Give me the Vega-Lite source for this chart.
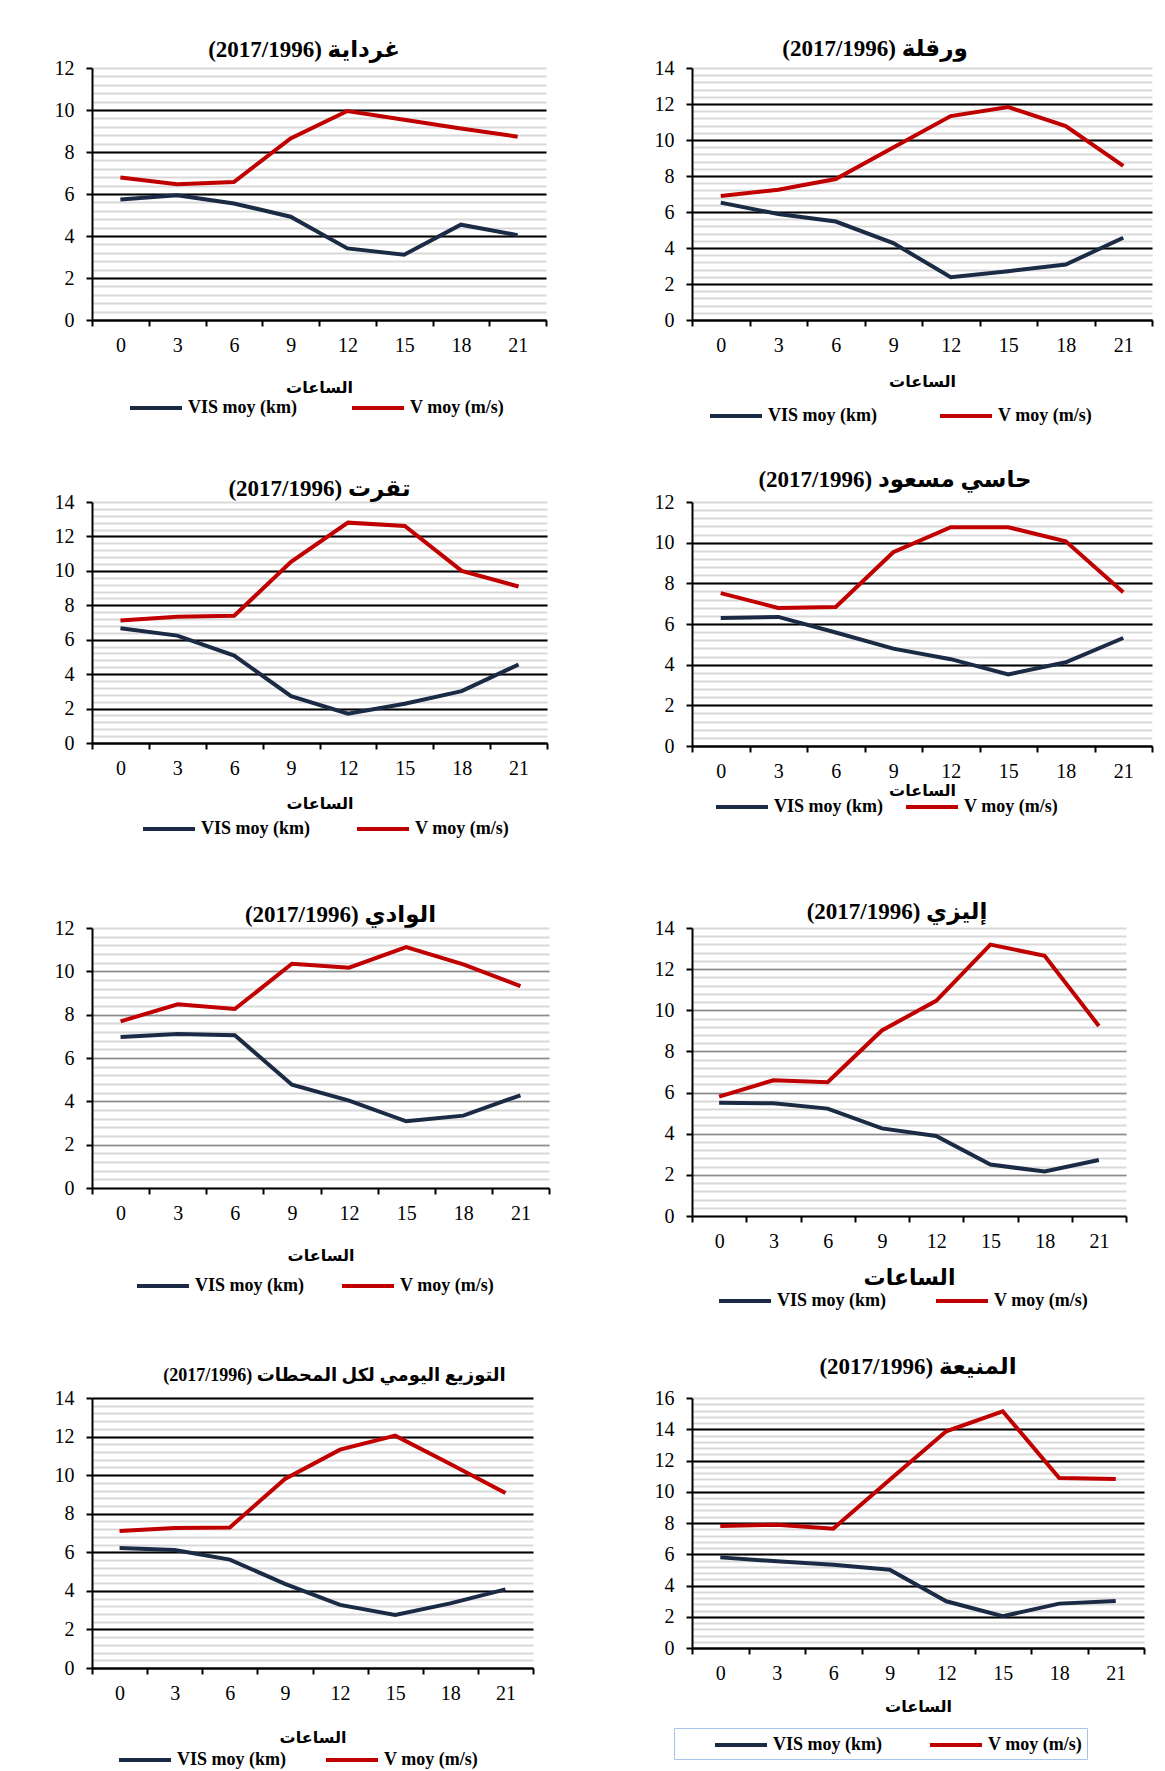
{
  "$schema": "https://vega.github.io/schema/vega-lite/v6.json",
  "padding": {"left": 54, "top": 38, "right": 5, "bottom": 5},
  "background": "white",
  "data": {"values": [
    {"st":"ghardaia","h":0,"s":"VIS moy (km)","v":5.74},{"st":"ghardaia","h":3,"s":"VIS moy (km)","v":5.94},{"st":"ghardaia","h":6,"s":"VIS moy (km)","v":5.55},{"st":"ghardaia","h":9,"s":"VIS moy (km)","v":4.92},{"st":"ghardaia","h":12,"s":"VIS moy (km)","v":3.41},{"st":"ghardaia","h":15,"s":"VIS moy (km)","v":3.11},{"st":"ghardaia","h":18,"s":"VIS moy (km)","v":4.54},{"st":"ghardaia","h":21,"s":"VIS moy (km)","v":4.04},
    {"st":"ghardaia","h":0,"s":"V moy (m/s)","v":6.79},{"st":"ghardaia","h":3,"s":"V moy (m/s)","v":6.46},{"st":"ghardaia","h":6,"s":"V moy (m/s)","v":6.57},{"st":"ghardaia","h":9,"s":"V moy (m/s)","v":8.65},{"st":"ghardaia","h":12,"s":"V moy (m/s)","v":9.95},{"st":"ghardaia","h":15,"s":"V moy (m/s)","v":9.54},{"st":"ghardaia","h":18,"s":"V moy (m/s)","v":9.12},{"st":"ghardaia","h":21,"s":"V moy (m/s)","v":8.73},
    {"st":"ouargla","h":0,"s":"VIS moy (km)","v":6.52},{"st":"ouargla","h":3,"s":"VIS moy (km)","v":5.89},{"st":"ouargla","h":6,"s":"VIS moy (km)","v":5.47},{"st":"ouargla","h":9,"s":"VIS moy (km)","v":4.27},{"st":"ouargla","h":12,"s":"VIS moy (km)","v":2.38},{"st":"ouargla","h":15,"s":"VIS moy (km)","v":2.71},{"st":"ouargla","h":18,"s":"VIS moy (km)","v":3.08},{"st":"ouargla","h":21,"s":"VIS moy (km)","v":4.57},
    {"st":"ouargla","h":0,"s":"V moy (m/s)","v":6.89},{"st":"ouargla","h":3,"s":"V moy (m/s)","v":7.24},{"st":"ouargla","h":6,"s":"V moy (m/s)","v":7.83},{"st":"ouargla","h":9,"s":"V moy (m/s)","v":9.58},{"st":"ouargla","h":12,"s":"V moy (m/s)","v":11.33},{"st":"ouargla","h":15,"s":"V moy (m/s)","v":11.83},{"st":"ouargla","h":18,"s":"V moy (m/s)","v":10.77},{"st":"ouargla","h":21,"s":"V moy (m/s)","v":8.56},
    {"st":"touggourt","h":0,"s":"VIS moy (km)","v":6.66},{"st":"touggourt","h":3,"s":"VIS moy (km)","v":6.24},{"st":"touggourt","h":6,"s":"VIS moy (km)","v":5.08},{"st":"touggourt","h":9,"s":"VIS moy (km)","v":2.72},{"st":"touggourt","h":12,"s":"VIS moy (km)","v":1.7},{"st":"touggourt","h":15,"s":"VIS moy (km)","v":2.28},{"st":"touggourt","h":18,"s":"VIS moy (km)","v":3.01},{"st":"touggourt","h":21,"s":"VIS moy (km)","v":4.56},
    {"st":"touggourt","h":0,"s":"V moy (m/s)","v":7.12},{"st":"touggourt","h":3,"s":"V moy (m/s)","v":7.34},{"st":"touggourt","h":6,"s":"V moy (m/s)","v":7.39},{"st":"touggourt","h":9,"s":"V moy (m/s)","v":10.52},{"st":"touggourt","h":12,"s":"V moy (m/s)","v":12.8},{"st":"touggourt","h":15,"s":"V moy (m/s)","v":12.61},{"st":"touggourt","h":18,"s":"V moy (m/s)","v":10.0},{"st":"touggourt","h":21,"s":"V moy (m/s)","v":9.09},
    {"st":"hassi","h":0,"s":"VIS moy (km)","v":6.3},{"st":"hassi","h":3,"s":"VIS moy (km)","v":6.35},{"st":"hassi","h":6,"s":"VIS moy (km)","v":5.58},{"st":"hassi","h":9,"s":"VIS moy (km)","v":4.79},{"st":"hassi","h":12,"s":"VIS moy (km)","v":4.27},{"st":"hassi","h":15,"s":"VIS moy (km)","v":3.52},{"st":"hassi","h":18,"s":"VIS moy (km)","v":4.12},{"st":"hassi","h":21,"s":"VIS moy (km)","v":5.31},
    {"st":"hassi","h":0,"s":"V moy (m/s)","v":7.52},{"st":"hassi","h":3,"s":"V moy (m/s)","v":6.79},{"st":"hassi","h":6,"s":"V moy (m/s)","v":6.84},{"st":"hassi","h":9,"s":"V moy (m/s)","v":9.53},{"st":"hassi","h":12,"s":"V moy (m/s)","v":10.76},{"st":"hassi","h":15,"s":"V moy (m/s)","v":10.76},{"st":"hassi","h":18,"s":"V moy (m/s)","v":10.07},{"st":"hassi","h":21,"s":"V moy (m/s)","v":7.56},
    {"st":"eloued","h":0,"s":"VIS moy (km)","v":6.97},{"st":"eloued","h":3,"s":"VIS moy (km)","v":7.11},{"st":"eloued","h":6,"s":"VIS moy (km)","v":7.05},{"st":"eloued","h":9,"s":"VIS moy (km)","v":4.77},{"st":"eloued","h":12,"s":"VIS moy (km)","v":4.03},{"st":"eloued","h":15,"s":"VIS moy (km)","v":3.08},{"st":"eloued","h":18,"s":"VIS moy (km)","v":3.34},{"st":"eloued","h":21,"s":"VIS moy (km)","v":4.28},
    {"st":"eloued","h":0,"s":"V moy (m/s)","v":7.69},{"st":"eloued","h":3,"s":"V moy (m/s)","v":8.48},{"st":"eloued","h":6,"s":"V moy (m/s)","v":8.26},{"st":"eloued","h":9,"s":"V moy (m/s)","v":10.35},{"st":"eloued","h":12,"s":"V moy (m/s)","v":10.17},{"st":"eloued","h":15,"s":"V moy (m/s)","v":11.12},{"st":"eloued","h":18,"s":"V moy (m/s)","v":10.32},{"st":"eloued","h":21,"s":"V moy (m/s)","v":9.32},
    {"st":"illizi","h":0,"s":"VIS moy (km)","v":5.5},{"st":"illizi","h":3,"s":"VIS moy (km)","v":5.48},{"st":"illizi","h":6,"s":"VIS moy (km)","v":5.22},{"st":"illizi","h":9,"s":"VIS moy (km)","v":4.26},{"st":"illizi","h":12,"s":"VIS moy (km)","v":3.89},{"st":"illizi","h":15,"s":"VIS moy (km)","v":2.5},{"st":"illizi","h":18,"s":"VIS moy (km)","v":2.16},{"st":"illizi","h":21,"s":"VIS moy (km)","v":2.72},
    {"st":"illizi","h":0,"s":"V moy (m/s)","v":5.8},{"st":"illizi","h":3,"s":"V moy (m/s)","v":6.6},{"st":"illizi","h":6,"s":"V moy (m/s)","v":6.5},{"st":"illizi","h":9,"s":"V moy (m/s)","v":9.02},{"st":"illizi","h":12,"s":"V moy (m/s)","v":10.46},{"st":"illizi","h":15,"s":"V moy (m/s)","v":13.19},{"st":"illizi","h":18,"s":"V moy (m/s)","v":12.65},{"st":"illizi","h":21,"s":"V moy (m/s)","v":9.24},
    {"st":"all","h":0,"s":"VIS moy (km)","v":6.22},{"st":"all","h":3,"s":"VIS moy (km)","v":6.12},{"st":"all","h":6,"s":"VIS moy (km)","v":5.62},{"st":"all","h":9,"s":"VIS moy (km)","v":4.36},{"st":"all","h":12,"s":"VIS moy (km)","v":3.27},{"st":"all","h":15,"s":"VIS moy (km)","v":2.75},{"st":"all","h":18,"s":"VIS moy (km)","v":3.35},{"st":"all","h":21,"s":"VIS moy (km)","v":4.08},
    {"st":"all","h":0,"s":"V moy (m/s)","v":7.1},{"st":"all","h":3,"s":"V moy (m/s)","v":7.26},{"st":"all","h":6,"s":"V moy (m/s)","v":7.29},{"st":"all","h":9,"s":"V moy (m/s)","v":9.8},{"st":"all","h":12,"s":"V moy (m/s)","v":11.32},{"st":"all","h":15,"s":"V moy (m/s)","v":12.05},{"st":"all","h":18,"s":"V moy (m/s)","v":10.58},{"st":"all","h":21,"s":"V moy (m/s)","v":9.07},
    {"st":"menia","h":0,"s":"VIS moy (km)","v":5.8},{"st":"menia","h":3,"s":"VIS moy (km)","v":5.55},{"st":"menia","h":6,"s":"VIS moy (km)","v":5.33},{"st":"menia","h":9,"s":"VIS moy (km)","v":5.01},{"st":"menia","h":12,"s":"VIS moy (km)","v":2.99},{"st":"menia","h":15,"s":"VIS moy (km)","v":2.03},{"st":"menia","h":18,"s":"VIS moy (km)","v":2.84},{"st":"menia","h":21,"s":"VIS moy (km)","v":3.01},
    {"st":"menia","h":0,"s":"V moy (m/s)","v":7.81},{"st":"menia","h":3,"s":"V moy (m/s)","v":7.89},{"st":"menia","h":6,"s":"V moy (m/s)","v":7.64},{"st":"menia","h":9,"s":"V moy (m/s)","v":10.77},{"st":"menia","h":12,"s":"V moy (m/s)","v":13.87},{"st":"menia","h":15,"s":"V moy (m/s)","v":15.15},{"st":"menia","h":18,"s":"V moy (m/s)","v":10.88},{"st":"menia","h":21,"s":"V moy (m/s)","v":10.82}
  ]},
  "columns": 2,
  "bounds": "flush",
  "spacing": {"row": 182, "column": 143},
  "resolve": {"scale": {"x": "independent", "y": "independent", "color": "independent"}, "legend": {"color": "independent"}},
  "concat": [
    {
      "width": 454, "height": 252,
      "title": {"text": "(2017/1996) غرداية", "fontSize": 23, "dx": -15, "offset": -4},
      "layer": [
        {"transform": [{"filter": "datum.st == 'ghardaia' && datum.s == 'VIS moy (km)'"}],
         "mark": {"type": "line", "strokeWidth": 4},
         "encoding": {
           "x": {"field": "h", "type": "quantitative", "scale": {"domain": [-1.5, 22.5], "nice": false, "zero": false}, "axis": {"orient": "bottom", "values": [-1.5,1.5,4.5,7.5,10.5,13.5,16.5,19.5,22.5], "labels": false, "ticks": true, "tickSize": 6, "tickWidth": 2, "tickColor": "black", "domain": true, "domainColor": "black", "domainWidth": 2, "grid": false, "title": null}},
           "y": {"field": "v", "type": "quantitative", "scale": {"domain": [0, 12], "nice": false}, "axis": {"orient": "left", "values": [0.4,0.8,1.2,1.6,2,2.4,2.8,3.2,3.6,4,4.4,4.8,5.2,5.6,6,6.4,6.8,7.2,7.6,8,8.4,8.8,9.2,9.6,10,10.4,10.8,11.2,11.6,12], "labels": false, "ticks": false, "domain": false, "grid": true, "gridColor": "#d9d9d9", "gridWidth": 2, "title": null}},
           "color": {"field": "s", "type": "nominal", "scale": {"domain": ["VIS moy (km)", "V moy (m/s)"], "range": ["#1c2b45", "#c00000"]}, "legend": {"title": null, "orient": "none", "direction": "horizontal", "legendX": 38, "legendY": 328, "columnPadding": 46}}
         }},
        {"transform": [{"filter": "datum.st == 'ghardaia' && datum.s == 'V moy (m/s)'"}],
         "mark": {"type": "line", "strokeWidth": 4},
         "encoding": {
           "x": {"field": "h", "type": "quantitative", "axis": {"orient": "bottom", "values": [0,3,6,9,12,15,18,21], "ticks": false, "tickSize": 0, "domain": false, "grid": false, "labelPadding": 15, "title": "الساعات", "titlePadding": 24}},
           "y": {"field": "v", "type": "quantitative", "axis": {"orient": "left", "values": [0,2,4,6,8,10,12], "grid": true, "gridColor": "black", "gridWidth": 1.8, "gridOpacity": {"condition": {"test": "datum.value == 12", "value": 0}, "value": 1}, "domain": true, "domainColor": "black", "domainWidth": 2, "ticks": true, "tickSize": 6, "tickWidth": 2, "tickColor": "black", "labelPadding": 12, "title": null}},
           "color": {"field": "s", "type": "nominal", "legend": {"title": null, "orient": "none", "direction": "horizontal", "legendX": 38, "legendY": 328, "columnPadding": 46}}
         }}
      ],
      "resolve": {"axis": {"x": "independent", "y": "independent"}}
    },
    {
      "width": 460, "height": 252,
      "title": {"text": "(2017/1996) ورقلة", "fontSize": 23, "dx": -47, "offset": -3},
      "layer": [
        {"transform": [{"filter": "datum.st == 'ouargla' && datum.s == 'VIS moy (km)'"}],
         "mark": {"type": "line", "strokeWidth": 4},
         "encoding": {
           "x": {"field": "h", "type": "quantitative", "scale": {"domain": [-1.5, 22.5], "nice": false, "zero": false}, "axis": {"orient": "bottom", "values": [-1.5,1.5,4.5,7.5,10.5,13.5,16.5,19.5,22.5], "labels": false, "ticks": true, "tickSize": 6, "tickWidth": 2, "tickColor": "black", "domain": true, "domainColor": "black", "domainWidth": 2, "grid": false, "title": null}},
           "y": {"field": "v", "type": "quantitative", "scale": {"domain": [0, 14], "nice": false}, "axis": {"orient": "left", "values": [0.4,0.8,1.2,1.6,2,2.4,2.8,3.2,3.6,4,4.4,4.8,5.2,5.6,6,6.4,6.8,7.2,7.6,8,8.4,8.8,9.2,9.6,10,10.4,10.8,11.2,11.6,12,12.4,12.8,13.2,13.6,14], "labels": false, "ticks": false, "domain": false, "grid": true, "gridColor": "#d9d9d9", "gridWidth": 2, "title": null}},
           "color": {"field": "s", "type": "nominal", "scale": {"domain": ["VIS moy (km)", "V moy (m/s)"], "range": ["#1c2b45", "#c00000"]}, "legend": {"title": null, "orient": "none", "direction": "horizontal", "legendX": 18, "legendY": 336, "columnPadding": 54}}
         }},
        {"transform": [{"filter": "datum.st == 'ouargla' && datum.s == 'V moy (m/s)'"}],
         "mark": {"type": "line", "strokeWidth": 4},
         "encoding": {
           "x": {"field": "h", "type": "quantitative", "axis": {"orient": "bottom", "values": [0,3,6,9,12,15,18,21], "ticks": false, "tickSize": 0, "domain": false, "grid": false, "labelPadding": 15, "title": "الساعات", "titlePadding": 18}},
           "y": {"field": "v", "type": "quantitative", "axis": {"orient": "left", "values": [0,2,4,6,8,10,12,14], "grid": true, "gridColor": "black", "gridWidth": 1.8, "gridOpacity": {"condition": {"test": "datum.value == 14", "value": 0}, "value": 1}, "domain": true, "domainColor": "black", "domainWidth": 2, "ticks": true, "tickSize": 6, "tickWidth": 2, "tickColor": "black", "labelPadding": 12, "title": null}},
           "color": {"field": "s", "type": "nominal", "legend": {"title": null, "orient": "none", "direction": "horizontal", "legendX": 18, "legendY": 336, "columnPadding": 54}}
         }}
      ],
      "resolve": {"axis": {"x": "independent", "y": "independent"}}
    },
    {
      "width": 455, "height": 241,
      "title": {"text": "(2017/1996) تقرت", "fontSize": 23, "dx": 0, "offset": -9},
      "layer": [
        {"transform": [{"filter": "datum.st == 'touggourt' && datum.s == 'VIS moy (km)'"}],
         "mark": {"type": "line", "strokeWidth": 4},
         "encoding": {
           "x": {"field": "h", "type": "quantitative", "scale": {"domain": [-1.5, 22.5], "nice": false, "zero": false}, "axis": {"orient": "bottom", "values": [-1.5,1.5,4.5,7.5,10.5,13.5,16.5,19.5,22.5], "labels": false, "ticks": true, "tickSize": 6, "tickWidth": 2, "tickColor": "black", "domain": true, "domainColor": "black", "domainWidth": 2, "grid": false, "title": null}},
           "y": {"field": "v", "type": "quantitative", "scale": {"domain": [0, 14], "nice": false}, "axis": {"orient": "left", "values": [0.4,0.8,1.2,1.6,2,2.4,2.8,3.2,3.6,4,4.4,4.8,5.2,5.6,6,6.4,6.8,7.2,7.6,8,8.4,8.8,9.2,9.6,10,10.4,10.8,11.2,11.6,12,12.4,12.8,13.2,13.6,14], "labels": false, "ticks": false, "domain": false, "grid": true, "gridColor": "#d9d9d9", "gridWidth": 2, "title": null}},
           "color": {"field": "s", "type": "nominal", "scale": {"domain": ["VIS moy (km)", "V moy (m/s)"], "range": ["#1c2b45", "#c00000"]}, "legend": {"title": null, "orient": "none", "direction": "horizontal", "legendX": 51, "legendY": 315, "columnPadding": 38}}
         }},
        {"transform": [{"filter": "datum.st == 'touggourt' && datum.s == 'V moy (m/s)'"}],
         "mark": {"type": "line", "strokeWidth": 4},
         "encoding": {
           "x": {"field": "h", "type": "quantitative", "axis": {"orient": "bottom", "values": [0,3,6,9,12,15,18,21], "ticks": false, "tickSize": 0, "domain": false, "grid": false, "labelPadding": 15, "title": "الساعات", "titlePadding": 17}},
           "y": {"field": "v", "type": "quantitative", "axis": {"orient": "left", "values": [0,2,4,6,8,10,12,14], "grid": true, "gridColor": "black", "gridWidth": 1.8, "gridOpacity": {"condition": {"test": "datum.value == 14", "value": 0}, "value": 1}, "domain": true, "domainColor": "black", "domainWidth": 2, "ticks": true, "tickSize": 6, "tickWidth": 2, "tickColor": "black", "labelPadding": 12, "title": null}},
           "color": {"field": "s", "type": "nominal", "legend": {"title": null, "orient": "none", "direction": "horizontal", "legendX": 51, "legendY": 315, "columnPadding": 38}}
         }}
      ],
      "resolve": {"axis": {"x": "independent", "y": "independent"}}
    },
    {
      "width": 460, "height": 244,
      "title": {"text": "(2017/1996) حاسي مسعود", "fontSize": 23, "dx": -27, "offset": 0},
      "layer": [
        {"transform": [{"filter": "datum.st == 'hassi' && datum.s == 'VIS moy (km)'"}],
         "mark": {"type": "line", "strokeWidth": 4},
         "encoding": {
           "x": {"field": "h", "type": "quantitative", "scale": {"domain": [-1.5, 22.5], "nice": false, "zero": false}, "axis": {"orient": "bottom", "values": [-1.5,1.5,4.5,7.5,10.5,13.5,16.5,19.5,22.5], "labels": false, "ticks": true, "tickSize": 6, "tickWidth": 2, "tickColor": "black", "domain": true, "domainColor": "black", "domainWidth": 2, "grid": false, "title": null}},
           "y": {"field": "v", "type": "quantitative", "scale": {"domain": [0, 12], "nice": false}, "axis": {"orient": "left", "values": [0.4,0.8,1.2,1.6,2,2.4,2.8,3.2,3.6,4,4.4,4.8,5.2,5.6,6,6.4,6.8,7.2,7.6,8,8.4,8.8,9.2,9.6,10,10.4,10.8,11.2,11.6,12], "labels": false, "ticks": false, "domain": false, "grid": true, "gridColor": "#d9d9d9", "gridWidth": 2, "title": null}},
           "color": {"field": "s", "type": "nominal", "scale": {"domain": ["VIS moy (km)", "V moy (m/s)"], "range": ["#1c2b45", "#c00000"]}, "legend": {"title": null, "orient": "none", "direction": "horizontal", "legendX": 24, "legendY": 293, "columnPadding": 14}}
         }},
        {"transform": [{"filter": "datum.st == 'hassi' && datum.s == 'V moy (m/s)'"}],
         "mark": {"type": "line", "strokeWidth": 4},
         "encoding": {
           "x": {"field": "h", "type": "quantitative", "axis": {"orient": "bottom", "values": [0,3,6,9,12,15,18,21], "ticks": false, "tickSize": 0, "domain": false, "grid": false, "labelPadding": 15, "title": "الساعات", "titlePadding": 1}},
           "y": {"field": "v", "type": "quantitative", "axis": {"orient": "left", "values": [0,2,4,6,8,10,12], "grid": true, "gridColor": "black", "gridWidth": 1.8, "gridOpacity": {"condition": {"test": "datum.value == 12", "value": 0}, "value": 1}, "domain": true, "domainColor": "black", "domainWidth": 2, "ticks": true, "tickSize": 6, "tickWidth": 2, "tickColor": "black", "labelPadding": 12, "title": null}},
           "color": {"field": "s", "type": "nominal", "legend": {"title": null, "orient": "none", "direction": "horizontal", "legendX": 24, "legendY": 293, "columnPadding": 14}}
         }}
      ],
      "resolve": {"axis": {"x": "independent", "y": "independent"}}
    },
    {
      "width": 457, "height": 260,
      "title": {"text": "(2017/1996) الوادي", "fontSize": 23, "dx": 20, "offset": -9},
      "layer": [
        {"transform": [{"filter": "datum.st == 'eloued' && datum.s == 'VIS moy (km)'"}],
         "mark": {"type": "line", "strokeWidth": 4},
         "encoding": {
           "x": {"field": "h", "type": "quantitative", "scale": {"domain": [-1.5, 22.5], "nice": false, "zero": false}, "axis": {"orient": "bottom", "values": [-1.5,1.5,4.5,7.5,10.5,13.5,16.5,19.5,22.5], "labels": false, "ticks": true, "tickSize": 6, "tickWidth": 2, "tickColor": "black", "domain": true, "domainColor": "black", "domainWidth": 2, "grid": false, "title": null}},
           "y": {"field": "v", "type": "quantitative", "scale": {"domain": [0, 12], "nice": false}, "axis": {"orient": "left", "values": [0.4,0.8,1.2,1.6,2,2.4,2.8,3.2,3.6,4,4.4,4.8,5.2,5.6,6,6.4,6.8,7.2,7.6,8,8.4,8.8,9.2,9.6,10,10.4,10.8,11.2,11.6,12], "labels": false, "ticks": false, "domain": false, "grid": true, "gridColor": "#d9d9d9", "gridWidth": 2, "title": null}},
           "color": {"field": "s", "type": "nominal", "scale": {"domain": ["VIS moy (km)", "V moy (m/s)"], "range": ["#1c2b45", "#c00000"]}, "legend": {"title": null, "orient": "none", "direction": "horizontal", "legendX": 45, "legendY": 346, "columnPadding": 29}}
         }},
        {"transform": [{"filter": "datum.st == 'eloued' && datum.s == 'V moy (m/s)'"}],
         "mark": {"type": "line", "strokeWidth": 4},
         "encoding": {
           "x": {"field": "h", "type": "quantitative", "axis": {"orient": "bottom", "values": [0,3,6,9,12,15,18,21], "ticks": false, "tickSize": 0, "domain": false, "grid": false, "labelPadding": 15, "title": "الساعات", "titlePadding": 24}},
           "y": {"field": "v", "type": "quantitative", "axis": {"orient": "left", "values": [0,2,4,6,8,10,12], "grid": true, "gridColor": "#8c8c8c", "gridWidth": 1.6, "gridOpacity": {"condition": {"test": "datum.value == 12", "value": 0}, "value": 1}, "domain": true, "domainColor": "black", "domainWidth": 2, "ticks": true, "tickSize": 6, "tickWidth": 2, "tickColor": "black", "labelPadding": 12, "title": null}},
           "color": {"field": "s", "type": "nominal", "legend": {"title": null, "orient": "none", "direction": "horizontal", "legendX": 45, "legendY": 346, "columnPadding": 29}}
         }}
      ],
      "resolve": {"axis": {"x": "independent", "y": "independent"}}
    },
    {
      "width": 434, "height": 288,
      "title": {"text": "(2017/1996) إليزي", "fontSize": 23, "dx": -12, "offset": -6},
      "layer": [
        {"transform": [{"filter": "datum.st == 'illizi' && datum.s == 'VIS moy (km)'"}],
         "mark": {"type": "line", "strokeWidth": 4},
         "encoding": {
           "x": {"field": "h", "type": "quantitative", "scale": {"domain": [-1.5, 22.5], "nice": false, "zero": false}, "axis": {"orient": "bottom", "values": [-1.5,1.5,4.5,7.5,10.5,13.5,16.5,19.5,22.5], "labels": false, "ticks": true, "tickSize": 6, "tickWidth": 2, "tickColor": "black", "domain": true, "domainColor": "black", "domainWidth": 2, "grid": false, "title": null}},
           "y": {"field": "v", "type": "quantitative", "scale": {"domain": [0, 14], "nice": false}, "axis": {"orient": "left", "values": [0.4,0.8,1.2,1.6,2,2.4,2.8,3.2,3.6,4,4.4,4.8,5.2,5.6,6,6.4,6.8,7.2,7.6,8,8.4,8.8,9.2,9.6,10,10.4,10.8,11.2,11.6,12,12.4,12.8,13.2,13.6,14], "labels": false, "ticks": false, "domain": false, "grid": true, "gridColor": "#d9d9d9", "gridWidth": 2, "title": null}},
           "color": {"field": "s", "type": "nominal", "scale": {"domain": ["VIS moy (km)", "V moy (m/s)"], "range": ["#1c2b45", "#c00000"]}, "legend": {"title": null, "orient": "none", "direction": "horizontal", "legendX": 27, "legendY": 361, "columnPadding": 41}}
         }},
        {"transform": [{"filter": "datum.st == 'illizi' && datum.s == 'V moy (m/s)'"}],
         "mark": {"type": "line", "strokeWidth": 4},
         "encoding": {
           "x": {"field": "h", "type": "quantitative", "axis": {"orient": "bottom", "values": [0,3,6,9,12,15,18,21], "ticks": false, "tickSize": 0, "domain": false, "grid": false, "labelPadding": 15, "title": "الساعات", "titlePadding": 16, "titleFontSize": 22}},
           "y": {"field": "v", "type": "quantitative", "axis": {"orient": "left", "values": [0,2,4,6,8,10,12,14], "grid": true, "gridColor": "#8c8c8c", "gridWidth": 1.6, "gridOpacity": {"condition": {"test": "datum.value == 14", "value": 0}, "value": 1}, "domain": true, "domainColor": "black", "domainWidth": 2, "ticks": true, "tickSize": 6, "tickWidth": 2, "tickColor": "black", "labelPadding": 12, "title": null}},
           "color": {"field": "s", "type": "nominal", "legend": {"title": null, "orient": "none", "direction": "horizontal", "legendX": 27, "legendY": 361, "columnPadding": 41}}
         }}
      ],
      "resolve": {"axis": {"x": "independent", "y": "independent"}}
    },
    {
      "width": 441, "height": 270,
      "title": {"text": "(2017/1996) التوزيع اليومي لكل المحطات", "fontSize": 18, "dx": 22, "offset": 3},
      "layer": [
        {"transform": [{"filter": "datum.st == 'all' && datum.s == 'VIS moy (km)'"}],
         "mark": {"type": "line", "strokeWidth": 4},
         "encoding": {
           "x": {"field": "h", "type": "quantitative", "scale": {"domain": [-1.5, 22.5], "nice": false, "zero": false}, "axis": {"orient": "bottom", "values": [-1.5,1.5,4.5,7.5,10.5,13.5,16.5,19.5,22.5], "labels": false, "ticks": true, "tickSize": 6, "tickWidth": 2, "tickColor": "black", "domain": true, "domainColor": "black", "domainWidth": 2, "grid": false, "title": null}},
           "y": {"field": "v", "type": "quantitative", "scale": {"domain": [0, 14], "nice": false}, "axis": {"orient": "left", "values": [0.4,0.8,1.2,1.6,2,2.4,2.8,3.2,3.6,4,4.4,4.8,5.2,5.6,6,6.4,6.8,7.2,7.6,8,8.4,8.8,9.2,9.6,10,10.4,10.8,11.2,11.6,12,12.4,12.8,13.2,13.6,14], "labels": false, "ticks": false, "domain": false, "grid": true, "gridColor": "#d9d9d9", "gridWidth": 2, "title": null}},
           "color": {"field": "s", "type": "nominal", "scale": {"domain": ["VIS moy (km)", "V moy (m/s)"], "range": ["#1c2b45", "#c00000"]}, "legend": {"title": null, "orient": "none", "direction": "horizontal", "legendX": 27, "legendY": 350, "columnPadding": 31}}
         }},
        {"transform": [{"filter": "datum.st == 'all' && datum.s == 'V moy (m/s)'"}],
         "mark": {"type": "line", "strokeWidth": 4},
         "encoding": {
           "x": {"field": "h", "type": "quantitative", "axis": {"orient": "bottom", "values": [0,3,6,9,12,15,18,21], "ticks": false, "tickSize": 0, "domain": false, "grid": false, "labelPadding": 15, "title": "الساعات", "titlePadding": 26}},
           "y": {"field": "v", "type": "quantitative", "axis": {"orient": "left", "values": [0,2,4,6,8,10,12,14], "grid": true, "gridColor": "black", "gridWidth": 1.8, "domain": true, "domainColor": "black", "domainWidth": 2, "ticks": true, "tickSize": 6, "tickWidth": 2, "tickColor": "black", "labelPadding": 12, "title": null}},
           "color": {"field": "s", "type": "nominal", "legend": {"title": null, "orient": "none", "direction": "horizontal", "legendX": 27, "legendY": 350, "columnPadding": 31}}
         }}
      ],
      "resolve": {"axis": {"x": "independent", "y": "independent"}}
    },
    {
      "width": 452, "height": 250,
      "title": {"text": "(2017/1996) المنيعة", "fontSize": 23, "dx": 0, "offset": 9},
      "layer": [
        {"transform": [{"filter": "datum.st == 'menia' && datum.s == 'VIS moy (km)'"}],
         "mark": {"type": "line", "strokeWidth": 4},
         "encoding": {
           "x": {"field": "h", "type": "quantitative", "scale": {"domain": [-1.5, 22.5], "nice": false, "zero": false}, "axis": {"orient": "bottom", "values": [-1.5,1.5,4.5,7.5,10.5,13.5,16.5,19.5,22.5], "labels": false, "ticks": true, "tickSize": 6, "tickWidth": 2, "tickColor": "black", "domain": true, "domainColor": "black", "domainWidth": 2, "grid": false, "title": null}},
           "y": {"field": "v", "type": "quantitative", "scale": {"domain": [0, 16], "nice": false}, "axis": {"orient": "left", "values": [0.4,0.8,1.2,1.6,2,2.4,2.8,3.2,3.6,4,4.4,4.8,5.2,5.6,6,6.4,6.8,7.2,7.6,8,8.4,8.8,9.2,9.6,10,10.4,10.8,11.2,11.6,12,12.4,12.8,13.2,13.6,14,14.4,14.8,15.2,15.6,16], "labels": false, "ticks": false, "domain": false, "grid": true, "gridColor": "#d9d9d9", "gridWidth": 2, "title": null}},
           "color": {"field": "s", "type": "nominal", "scale": {"domain": ["VIS moy (km)", "V moy (m/s)"], "range": ["#1c2b45", "#c00000"]}, "legend": {"title": " ", "titleOrient": "left", "titlePadding": 36, "orient": "none", "direction": "horizontal", "legendX": -18, "legendY": 330, "columnPadding": 39, "padding": 5, "strokeColor": "#a9c4ea", "fillColor": "white"}}
         }},
        {"transform": [{"filter": "datum.st == 'menia' && datum.s == 'V moy (m/s)'"}],
         "mark": {"type": "line", "strokeWidth": 4},
         "encoding": {
           "x": {"field": "h", "type": "quantitative", "axis": {"orient": "bottom", "values": [0,3,6,9,12,15,18,21], "ticks": false, "tickSize": 0, "domain": false, "grid": false, "labelPadding": 15, "title": "الساعات", "titlePadding": 15}},
           "y": {"field": "v", "type": "quantitative", "axis": {"orient": "left", "values": [0,2,4,6,8,10,12,14,16], "grid": true, "gridColor": "black", "gridWidth": 1.8, "gridOpacity": {"condition": {"test": "datum.value == 16", "value": 0}, "value": 1}, "domain": true, "domainColor": "black", "domainWidth": 2, "ticks": true, "tickSize": 6, "tickWidth": 2, "tickColor": "black", "labelPadding": 12, "title": null}},
           "color": {"field": "s", "type": "nominal", "legend": {"title": " ", "titleOrient": "left", "titlePadding": 36, "orient": "none", "direction": "horizontal", "legendX": -18, "legendY": 330, "columnPadding": 39, "padding": 5, "strokeColor": "#a9c4ea", "fillColor": "white"}}
         }}
      ],
      "resolve": {"axis": {"x": "independent", "y": "independent"}}
    }
  ],
  "config": {
    "view": {"stroke": null},
    "title": {"font": "Liberation Serif, DejaVu Sans", "fontWeight": "bold", "color": "black", "anchor": "middle", "frame": "group"},
    "axis": {"labelFont": "Liberation Serif", "labelFontSize": 20, "labelColor": "black", "titleFont": "DejaVu Sans", "titleFontSize": 16, "titleFontWeight": "bold", "titleColor": "black"},
    "legend": {"symbolType": "M-2.6,0H2.6", "symbolSize": 400, "symbolOffset": 14, "symbolStrokeWidth": 4, "labelFont": "Liberation Serif", "labelFontWeight": "bold", "labelFontSize": 18, "labelColor": "black", "labelOffset": 20, "labelLimit": 400}
  }
}
